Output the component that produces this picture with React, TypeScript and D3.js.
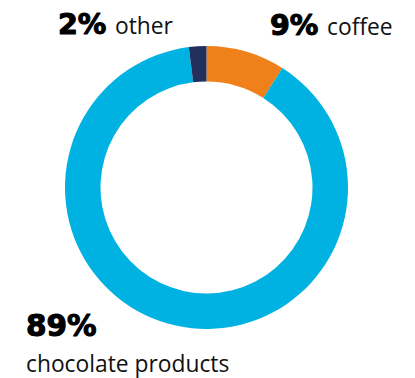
import React from "react";
import * as d3 from "d3";

const categories = ["coffee", "chocolate products", "other"];
const values = [9, 89, 2];
const percentLabels = ["9%", "89%", "2%"];
const colors = ["#F08019", "#00B2E2", "#23305E"];

const W = 415;
const H = 378;
const cx = 206.5;
const cy = 187.5;
const outerR = 141.5;
const innerR = 106;

export default function App() {
  const pie = d3.pie<number>().sort(null).value((d) => d)(values);
  const arc = d3.arc<d3.PieArcDatum<number>>().innerRadius(innerR).outerRadius(outerR);
  const bold = {
    fontFamily: "'DejaVu Sans', sans-serif",
    fontWeight: 700,
    fontSize: 28.5,
    stroke: "#000",
    strokeWidth: 1.1,
    strokeLinejoin: "round" as const,
  };
  const reg = { fontFamily: "'Open Sans', sans-serif", fontWeight: 400, fontSize: 22.8 };
  return (
    <svg width={W} height={H} style={{ position: "absolute", left: 0, top: 0, background: "#fff" }}>
      <g transform={`translate(${cx},${cy})`}>
        {pie.map((p, i) => (
          <path key={categories[i]} d={arc(p) || ""} fill={colors[i]} />
        ))}
      </g>
      <text x={58} y={34} fill="#000" style={bold}>{percentLabels[2]}</text>
      <text x={115} y={34} fill="#111" style={reg}>{categories[2]}</text>
      <text x={270} y={35} fill="#000" style={bold}>{percentLabels[0]}</text>
      <text x={327} y={35} fill="#111" style={reg}>{categories[0]}</text>
      <text x={26} y={336} fill="#000" style={{ ...bold, fontSize: 29.5 }}>
        {percentLabels[1]}
      </text>
      <text x={26} y={372} fill="#111" style={reg}>
        {categories[1]}
      </text>
    </svg>
  );
}
